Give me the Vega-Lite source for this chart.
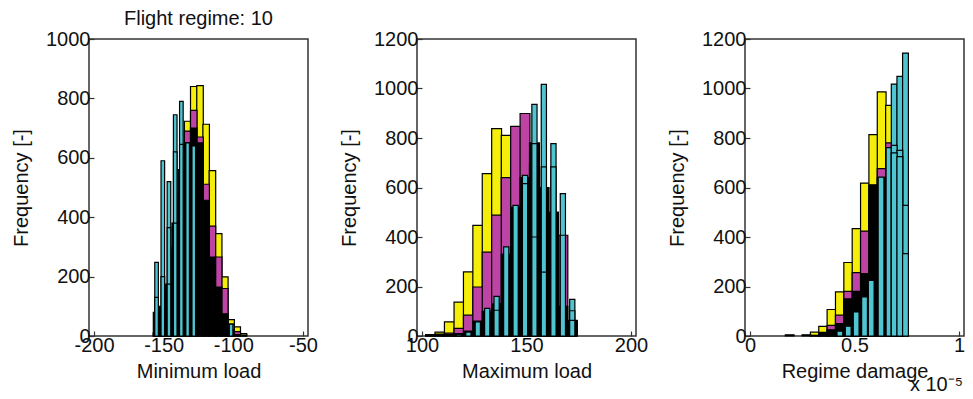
{
  "$schema": "https://vega.github.io/schema/vega-lite/v6.json",
  "padding": {"left": 10, "top": 8, "right": 0, "bottom": 0},
  "background": "white",
  "config": {
    "font": "Liberation Sans",
    "view": {"stroke": "#333", "strokeWidth": 1.5},
    "axis": {
      "labelFont": "Liberation Sans", "labelFontSize": 20, "labelColor": "#111",
      "titleFont": "Liberation Sans", "titleFontSize": 20, "titleFontWeight": "normal", "titleColor": "#111",
      "domain": false, "grid": false, "tickColor": "#333", "tickSize": -5, "tickWidth": 1.2,
      "labelPadding": 4, "format": "d", "labelExpr": "replace(datum.label, '−', '-')"
    },
    "axisX": {"titlePadding": 6},
    "axisY": {"titlePadding": 14}
  },
  "data": {"values": [
    {"p":1,"s":"Y","x":-155.1,"n":10},{"p":1,"s":"Y","x":-150.6,"n":40},{"p":1,"s":"Y","x":-146.2,"n":120},{"p":1,"s":"Y","x":-141.7,"n":280},{"p":1,"s":"Y","x":-137.3,"n":480},{"p":1,"s":"Y","x":-132.8,"n":723},{"p":1,"s":"Y","x":-128.4,"n":840},{"p":1,"s":"Y","x":-123.9,"n":843},{"p":1,"s":"Y","x":-119.5,"n":713},{"p":1,"s":"Y","x":-115.0,"n":557},{"p":1,"s":"Y","x":-110.5,"n":345},{"p":1,"s":"Y","x":-106.1,"n":199},{"p":1,"s":"Y","x":-101.6,"n":55},{"p":1,"s":"Y","x":-97.2,"n":31},{"p":1,"s":"Y","x":-92.7,"n":8},
    {"p":1,"s":"M","x":-155.1,"n":10},{"p":1,"s":"M","x":-150.6,"n":60},{"p":1,"s":"M","x":-146.2,"n":150},{"p":1,"s":"M","x":-141.7,"n":300},{"p":1,"s":"M","x":-137.3,"n":450},{"p":1,"s":"M","x":-132.8,"n":690},{"p":1,"s":"M","x":-128.4,"n":760},{"p":1,"s":"M","x":-123.9,"n":670},{"p":1,"s":"M","x":-119.5,"n":511},{"p":1,"s":"M","x":-115.0,"n":370},{"p":1,"s":"M","x":-110.5,"n":266},{"p":1,"s":"M","x":-106.1,"n":160},{"p":1,"s":"M","x":-101.6,"n":40},{"p":1,"s":"M","x":-97.2,"n":15},{"p":1,"s":"M","x":-92.7,"n":3},
    {"p":1,"s":"K","x":-155.1,"n":80},{"p":1,"s":"K","x":-150.6,"n":100},{"p":1,"s":"K","x":-146.2,"n":175},{"p":1,"s":"K","x":-141.7,"n":380},{"p":1,"s":"K","x":-137.3,"n":560},{"p":1,"s":"K","x":-132.8,"n":650},{"p":1,"s":"K","x":-128.4,"n":700},{"p":1,"s":"K","x":-123.9,"n":650},{"p":1,"s":"K","x":-119.5,"n":457},{"p":1,"s":"K","x":-115.0,"n":266},{"p":1,"s":"K","x":-110.5,"n":165},{"p":1,"s":"K","x":-106.1,"n":75},{"p":1,"s":"K","x":-101.6,"n":20},{"p":1,"s":"K","x":-97.2,"n":5},
    {"p":1,"s":"C","x":-155.1,"n":248},{"p":1,"s":"C","x":-150.6,"n":590},{"p":1,"s":"C","x":-146.2,"n":520},{"p":1,"s":"C","x":-141.7,"n":745},{"p":1,"s":"C","x":-137.3,"n":790},{"p":1,"s":"C","x":-132.8,"n":650},{"p":1,"s":"C","x":-128.4,"n":640},{"p":1,"s":"C","x":-101.6,"n":40},
    {"p":1,"s":"C2","x":-155.1,"n":130},{"p":1,"s":"C2","x":-150.6,"n":200},{"p":1,"s":"C2","x":-146.2,"n":365},{"p":1,"s":"C2","x":-141.7,"n":620},{"p":1,"s":"C2","x":-137.3,"n":645},
    {"p":1,"s":"C3","x":-146.2,"n":175},{"p":1,"s":"C3","x":-141.7,"n":380},

    {"p":2,"s":"Y","x":104.1,"n":4},{"p":2,"s":"Y","x":108.6,"n":16},{"p":2,"s":"Y","x":113.1,"n":57},{"p":2,"s":"Y","x":117.7,"n":137},{"p":2,"s":"Y","x":122.2,"n":259},{"p":2,"s":"Y","x":126.7,"n":447},{"p":2,"s":"Y","x":131.2,"n":656},{"p":2,"s":"Y","x":135.7,"n":838},{"p":2,"s":"Y","x":140.3,"n":811},{"p":2,"s":"Y","x":144.8,"n":700},{"p":2,"s":"Y","x":149.3,"n":500},{"p":2,"s":"Y","x":153.8,"n":300},{"p":2,"s":"Y","x":158.3,"n":150},{"p":2,"s":"Y","x":162.9,"n":60},{"p":2,"s":"Y","x":167.4,"n":20},{"p":2,"s":"Y","x":171.9,"n":5},
    {"p":2,"s":"M","x":104.1,"n":2},{"p":2,"s":"M","x":108.6,"n":5},{"p":2,"s":"M","x":113.1,"n":12},{"p":2,"s":"M","x":117.7,"n":31},{"p":2,"s":"M","x":122.2,"n":84},{"p":2,"s":"M","x":126.7,"n":198},{"p":2,"s":"M","x":131.2,"n":339},{"p":2,"s":"M","x":135.7,"n":488},{"p":2,"s":"M","x":140.3,"n":640},{"p":2,"s":"M","x":144.8,"n":847},{"p":2,"s":"M","x":149.3,"n":899},{"p":2,"s":"M","x":153.8,"n":700},{"p":2,"s":"M","x":158.3,"n":600},{"p":2,"s":"M","x":162.9,"n":500},{"p":2,"s":"M","x":167.4,"n":407},{"p":2,"s":"M","x":171.9,"n":60},
    {"p":2,"s":"K","x":104.1,"n":6},{"p":2,"s":"K","x":108.6,"n":8},{"p":2,"s":"K","x":113.1,"n":6},{"p":2,"s":"K","x":117.7,"n":10},{"p":2,"s":"K","x":122.2,"n":20},{"p":2,"s":"K","x":126.7,"n":60},{"p":2,"s":"K","x":131.2,"n":100},{"p":2,"s":"K","x":135.7,"n":130},{"p":2,"s":"K","x":140.3,"n":330},{"p":2,"s":"K","x":144.8,"n":520},{"p":2,"s":"K","x":149.3,"n":640},{"p":2,"s":"K","x":153.8,"n":780},{"p":2,"s":"K","x":158.3,"n":600},{"p":2,"s":"K","x":162.9,"n":500},{"p":2,"s":"K","x":167.4,"n":120},{"p":2,"s":"K","x":171.9,"n":63},
    {"p":2,"s":"C","x":117.7,"n":5},{"p":2,"s":"C","x":122.2,"n":16},{"p":2,"s":"C","x":126.7,"n":57},{"p":2,"s":"C","x":131.2,"n":112},{"p":2,"s":"C","x":135.7,"n":160},{"p":2,"s":"C","x":140.3,"n":360},{"p":2,"s":"C","x":144.8,"n":528},{"p":2,"s":"C","x":149.3,"n":649},{"p":2,"s":"C","x":153.8,"n":936},{"p":2,"s":"C","x":158.3,"n":1017},{"p":2,"s":"C","x":162.9,"n":777},{"p":2,"s":"C","x":167.4,"n":575},{"p":2,"s":"C","x":171.9,"n":148},
    {"p":2,"s":"C2","x":135.7,"n":104},{"p":2,"s":"C2","x":149.3,"n":616},{"p":2,"s":"C2","x":153.8,"n":777},{"p":2,"s":"C2","x":158.3,"n":683},{"p":2,"s":"C2","x":162.9,"n":683},{"p":2,"s":"C2","x":167.4,"n":407},{"p":2,"s":"C2","x":171.9,"n":102},
    {"p":2,"s":"C3","x":153.8,"n":400},{"p":2,"s":"C3","x":158.3,"n":258},{"p":2,"s":"C3","x":171.9,"n":63},

    {"p":3,"s":"Y","x":0.31,"n":16},{"p":3,"s":"Y","x":0.35,"n":39},{"p":3,"s":"Y","x":0.39,"n":107},{"p":3,"s":"Y","x":0.43,"n":178},{"p":3,"s":"Y","x":0.47,"n":297},{"p":3,"s":"Y","x":0.51,"n":434},{"p":3,"s":"Y","x":0.55,"n":618},{"p":3,"s":"Y","x":0.59,"n":814},{"p":3,"s":"Y","x":0.63,"n":986},{"p":3,"s":"Y","x":0.67,"n":932},{"p":3,"s":"Y","x":0.71,"n":500},
    {"p":3,"s":"M","x":0.35,"n":15},{"p":3,"s":"M","x":0.39,"n":43},{"p":3,"s":"M","x":0.43,"n":84},{"p":3,"s":"M","x":0.47,"n":180},{"p":3,"s":"M","x":0.51,"n":256},{"p":3,"s":"M","x":0.55,"n":424},{"p":3,"s":"M","x":0.59,"n":550},{"p":3,"s":"M","x":0.63,"n":676},{"p":3,"s":"M","x":0.67,"n":780},{"p":3,"s":"M","x":0.71,"n":600},
    {"p":3,"s":"K","x":0.19,"n":5},{"p":3,"s":"K","x":0.27,"n":5},{"p":3,"s":"K","x":0.31,"n":3},{"p":3,"s":"K","x":0.35,"n":10},{"p":3,"s":"K","x":0.39,"n":25},{"p":3,"s":"K","x":0.43,"n":50},{"p":3,"s":"K","x":0.47,"n":150},{"p":3,"s":"K","x":0.51,"n":180},{"p":3,"s":"K","x":0.55,"n":252},{"p":3,"s":"K","x":0.59,"n":611},{"p":3,"s":"K","x":0.63,"n":640},{"p":3,"s":"K","x":0.67,"n":740},{"p":3,"s":"K","x":0.71,"n":720},
    {"p":3,"s":"C","x":0.43,"n":20},{"p":3,"s":"C","x":0.47,"n":40},{"p":3,"s":"C","x":0.508,"n":97},{"p":3,"s":"C","x":0.548,"n":158},{"p":3,"s":"C","x":0.58,"n":225},{"p":3,"s":"C","x":0.627,"n":642},{"p":3,"s":"C","x":0.665,"n":761},{"p":3,"s":"C","x":0.69,"n":1018},{"p":3,"s":"C","x":0.717,"n":1049},{"p":3,"s":"C","x":0.744,"n":1143},
    {"p":3,"s":"C2","x":0.69,"n":770},{"p":3,"s":"C2","x":0.717,"n":750},{"p":3,"s":"C2","x":0.744,"n":528},
    {"p":3,"s":"C3","x":0.69,"n":740},{"p":3,"s":"C3","x":0.717,"n":725},{"p":3,"s":"C3","x":0.744,"n":333},
    {"p":3,"s":"T","x":1,"n":0,"label":"x 10⁻⁵"}
  ]},
  "spacing": 109,
  "bounds": "flush",
  "resolve": {"scale": {"x": "independent", "y": "independent"}},
  "hconcat": [
    {
      "width": 219, "height": 297,
      "title": {"text": "Flight regime: 10", "fontSize": 20, "fontWeight": "normal", "font": "Liberation Sans", "color": "#111", "offset": 0},
      "transform": [{"filter": "datum.p == 1"}],
      "encoding": {
        "x": {"field": "x", "type": "quantitative", "scale": {"domain": [-200, -50], "nice": false, "zero": false}, "axis": {"values": [-200, -150, -100, -50], "title": "Minimum load"}},
        "y": {"field": "n", "type": "quantitative", "stack": null, "scale": {"domain": [0, 1000], "nice": false}, "axis": {"values": [0, 200, 400, 600, 800, 1000], "title": "Frequency [-]"}},
        "color": {"field": "s", "type": "nominal", "scale": {"domain": ["Y", "M", "K", "C", "C2", "C3"], "range": ["#f4ee0a", "#bd44a4", "#000000", "#4fc5d1", "#4fc5d1", "#4fc5d1"]}, "legend": null}
      },
      "layer": [
        {"transform": [{"filter": "indexof(['Y','M','K'], datum.s) >= 0"}], "mark": {"type": "bar", "size": 6.5, "stroke": "#000", "strokeWidth": 1.2}},
        {"transform": [{"filter": "indexof(['C','C2','C3'], datum.s) >= 0"}], "mark": {"type": "bar", "size": 3.6, "stroke": "#000", "strokeWidth": 1.2}}
      ]
    },
    {
      "width": 219, "height": 297,
      "transform": [{"filter": "datum.p == 2"}],
      "encoding": {
        "x": {"field": "x", "type": "quantitative", "scale": {"domain": [100, 200], "nice": false, "zero": false}, "axis": {"values": [100, 150, 200], "title": "Maximum load"}},
        "y": {"field": "n", "type": "quantitative", "stack": null, "scale": {"domain": [0, 1200], "nice": false}, "axis": {"values": [0, 200, 400, 600, 800, 1000, 1200], "title": "Frequency [-]"}},
        "color": {"field": "s", "type": "nominal", "scale": {"domain": ["Y", "M", "K", "C", "C2", "C3"], "range": ["#f4ee0a", "#bd44a4", "#000000", "#4fc5d1", "#4fc5d1", "#4fc5d1"]}, "legend": null}
      },
      "layer": [
        {"transform": [{"filter": "indexof(['Y','M','K'], datum.s) >= 0"}], "mark": {"type": "bar", "size": 9.9, "stroke": "#000", "strokeWidth": 1.2}},
        {"transform": [{"filter": "indexof(['C','C2','C3'], datum.s) >= 0"}], "mark": {"type": "bar", "size": 5.2, "stroke": "#000", "strokeWidth": 1.2}}
      ]
    },
    {
      "width": 219, "height": 297,
      "transform": [{"filter": "datum.p == 3"}],
      "encoding": {
        "x": {"field": "x", "type": "quantitative", "scale": {"domain": [0, 1], "nice": false}, "axis": {"values": [0, 0.5, 1], "format": "~g", "title": "Regime damage"}},
        "y": {"field": "n", "type": "quantitative", "stack": null, "scale": {"domain": [0, 1200], "nice": false}, "axis": {"values": [0, 200, 400, 600, 800, 1000, 1200], "title": "Frequency [-]"}}
      },
      "layer": [
        {"transform": [{"filter": "indexof(['Y','M','K'], datum.s) >= 0"}], "mark": {"type": "bar", "size": 8.8, "stroke": "#000", "strokeWidth": 1.2},
         "encoding": {"color": {"field": "s", "type": "nominal", "scale": {"domain": ["Y", "M", "K", "C", "C2", "C3"], "range": ["#f4ee0a", "#bd44a4", "#000000", "#4fc5d1", "#4fc5d1", "#4fc5d1"]}, "legend": null}}},
        {"transform": [{"filter": "indexof(['C','C2','C3'], datum.s) >= 0"}], "mark": {"type": "bar", "size": 5.8, "stroke": "#000", "strokeWidth": 1.2},
         "encoding": {"color": {"field": "s", "type": "nominal", "scale": {"domain": ["Y", "M", "K", "C", "C2", "C3"], "range": ["#f4ee0a", "#bd44a4", "#000000", "#4fc5d1", "#4fc5d1", "#4fc5d1"]}, "legend": null}}},
        {"transform": [{"filter": "datum.s == 'T'"}],
         "mark": {"type": "text", "align": "right", "baseline": "top", "dy": 39, "dx": 4, "fontSize": 20, "font": "Liberation Sans", "color": "#111"},
         "encoding": {"text": {"field": "label", "type": "nominal"}}}
      ]
    }
  ]
}
